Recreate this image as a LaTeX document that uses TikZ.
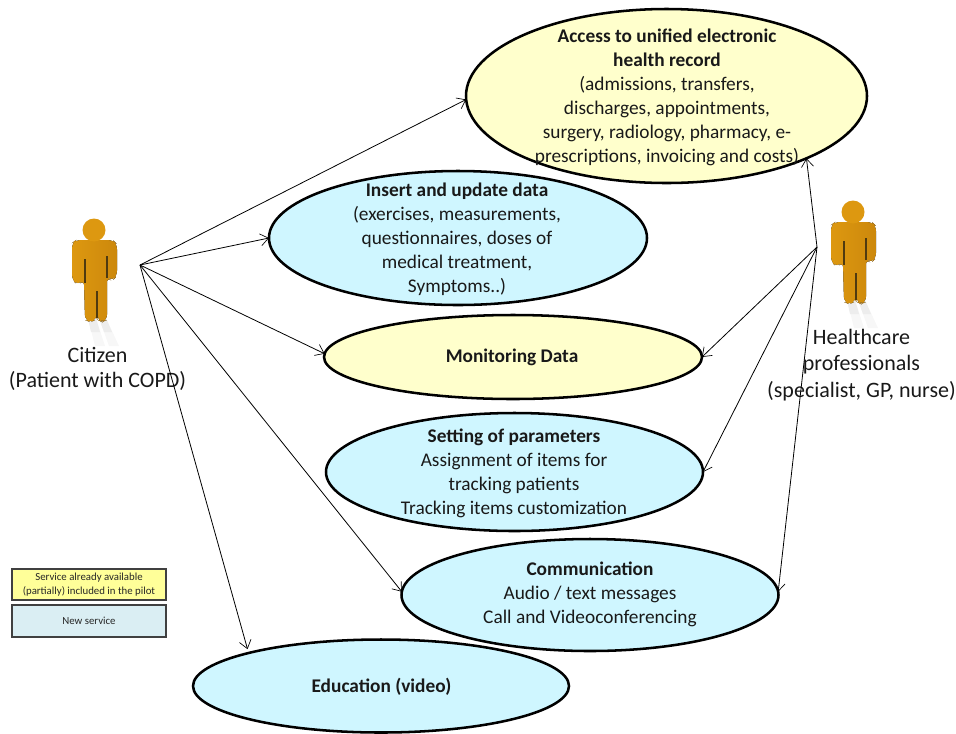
\documentclass[tikz,border=0pt]{standalone}
\usepackage{fontspec}
\setmainfont{Carlito}
\usetikzlibrary{shapes.geometric,arrows.meta}
\definecolor{oldfill}{HTML}{FFFFCC}
\definecolor{newfill}{HTML}{CFF6FF}
\definecolor{legyellow}{HTML}{FFFF99}
\definecolor{legblue}{HTML}{DAEEF3}
\definecolor{bodya}{HTML}{DD9810}
\definecolor{bodyb}{HTML}{CC880C}
\definecolor{slit}{HTML}{4F3A10}
\tikzset{
  usecase/.style={ellipse,draw=black,line width=1.9pt,inner sep=0pt,outer sep=0pt,minimum width=#1},
  casetext/.style={align=center,font=\fontsize{14.5}{18}\selectfont,text=black!90,inner sep=0pt},
  actortext/.style={align=center,font=\fontsize{16.5}{#1}\selectfont,text=black!90,inner sep=0pt},
  legendbox/.style={draw=black!75,line width=1.3pt,minimum width=116pt,inner sep=0pt,outer sep=0pt,align=center,font=\fontsize{8.1}{10}\selectfont,text=black!85},
  link/.style={draw=black,line width=0.6pt,-{Straight Barb[length=6pt,width=9pt,line width=0.5pt]}},
  person/.pic={
    \fill[black!3] (-6,88) -- (2,88) -- (11,116) -- (1,116) -- cycle;
    \fill[black!3] (5,88) -- (12,88) -- (25,116) -- (15,116) -- cycle;
    \fill[black!7] (-6,88) -- (2,88) -- (6,102) -- (-3,102) -- cycle;
    \fill[black!7] (5,88) -- (12,88) -- (18,102) -- (10,102) -- cycle;
    \fill[left color=bodya,right color=bodyb,rounded corners=4pt]
      (-22,13) -- (-18,10) -- (19,10) -- (23,14) -- (23,46) -- (18,51) -- (13,47) -- (13,60) -- (13,90) -- (8,92) -- (4,90) -- (3,84) -- (2,90) -- (-4,92) -- (-9,90) -- (-10,50) -- (-16,55) -- (-22,50) -- cycle;
    \fill[bodya] (0,0) circle[radius=11.5];
    \draw[slit,line width=0.9pt] (-9,29) -- (-9,53) (13,26) -- (13,48) (3,61) -- (3,88);
  }
}
\begin{document}
\begin{tikzpicture}[x=0.75pt,y=-0.75pt]
\useasboundingbox (0,0) rectangle (956,733);
% actors
\pic at (94,230) {person};
\pic at (853,212) {person};
\coordinate (citizenhub) at (140,265);
\coordinate (carehub) at (817,247);
% use cases
\node[usecase=300.75pt,minimum height=130.5pt,fill=oldfill] (access) at (666.5,96) {};
\node[usecase=283.5pt,minimum height=100.5pt,fill=newfill] (insert) at (458,238) {};
\node[usecase=283.5pt,minimum height=63pt,fill=oldfill] (monitor) at (513,357) {};
\node[usecase=282.75pt,minimum height=88.5pt,fill=newfill] (setting) at (514.5,472) {};
\node[usecase=282.75pt,minimum height=84pt,fill=newfill] (comm) at (590,595) {};
\node[usecase=282pt,minimum height=69.75pt,fill=newfill] (edu) at (381,686) {};
% texts
\node[casetext] (accesstext) at (667,97.5) {\textbf{Access to unified electronic}\\\textbf{health record}\\(admissions, transfers,\\discharges, appointments,\\surgery, radiology, pharmacy, e-\\prescriptions, invoicing and costs)};
\node[casetext] (inserttext) at (457,239) {\textbf{Insert and update data}\\(exercises, measurements,\\questionnaires, doses of\\medical treatment,\\Symptoms..)};
\node[casetext] (monitortext) at (512,357) {\textbf{Monitoring Data}};
\node[casetext] (settingtext) at (514,473) {\textbf{Setting of parameters}\\Assignment of items for\\tracking patients\\Tracking items customization};
\node[casetext] (commtext) at (590,594) {\textbf{Communication}\\Audio / text messages\\Call and Videoconferencing};
\node[casetext] (edutext) at (381.5,687) {\textbf{Education (video)}};
% actor labels
\node[actortext=19] (citizenlabel) at (97.5,369) {Citizen\\(Patient with COPD)};
\node[actortext=20] (carelabel) at (861.5,365) {Healthcare\\professionals\\(specialist, GP, nurse)};
% legend
\node[legendbox,minimum height=23pt,fill=legyellow] (legold) at (89,584.5) {Service already available\\(partially) included in the pilot};
\node[legendbox,minimum height=23.5pt,fill=legblue] (legnew) at (89,621) {New service};
% connectors
\draw[link] (citizenhub) -- (access.181);
\draw[link] (citizenhub) -- (insert.180);
\draw[link] (citizenhub) -- (monitor.179);
\draw[link] (citizenhub) -- (comm.179);
\draw[link,shorten >=3pt] (citizenhub) -- (edu.166.1);
\draw[link] (carehub) -- (access.336.5);
\draw[link] (carehub) -- (monitor.0);
\draw[link] (carehub) -- (setting.0);
\draw[link] (carehub) -- (comm.1);
\end{tikzpicture}
\end{document}
